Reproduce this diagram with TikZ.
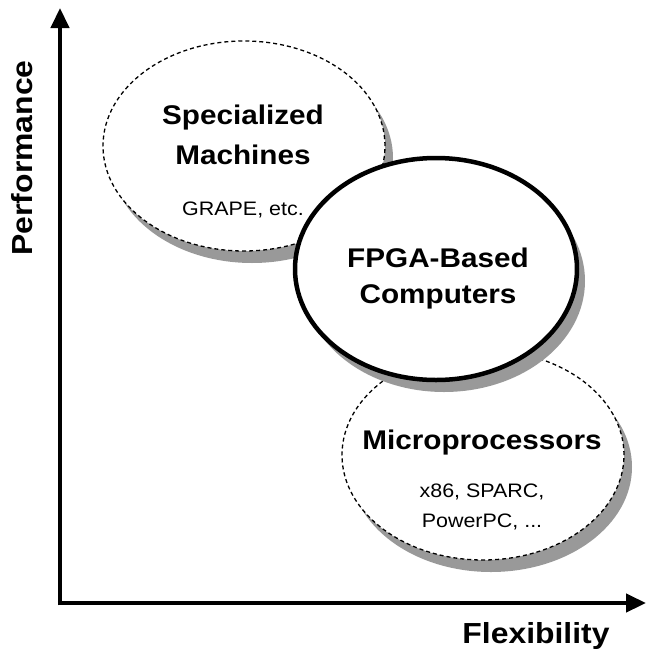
\documentclass[tikz,border=0pt]{standalone}
\usepackage{fontspec}
\setmainfont{Liberation Sans}[FakeStretch=1.1]
\usetikzlibrary{arrows.meta,shapes.geometric,shadows}

\tikzset{
  region/.style={ellipse, draw=black, fill=white, inner sep=0pt,
    drop shadow={shadow xshift=8pt, shadow yshift=-12pt, fill=black!40, opacity=1}},
  softregion/.style={region, line width=1.3pt, dash pattern=on 4pt off 3pt},
  hardregion/.style={region, line width=4.5pt},
  bigtext/.style={font=\bfseries\fontsize{27}{30}\selectfont, inner sep=0pt},
  axislabel/.style={font=\bfseries\fontsize{29}{32}\selectfont, inner sep=0pt},
  smalltext/.style={font=\fontsize{19.5}{22}\selectfont, inner sep=0pt},
  axis/.style={line width=4.5pt, -{Triangle[length=20pt,width=18pt]}}
}

\begin{document}
\begin{tikzpicture}[x=1pt,y=-1pt]
  \useasboundingbox (0,0) rectangle (646,651);

  % axes
  \coordinate (origin) at (60,603);
  \coordinate (ytop) at (60,8);
  \coordinate (xend) at (646,603);
  \draw[axis] ([xshift=-2.25pt]origin) -- (xend);
  \draw[axis] ([yshift=-2.25pt]origin) -- (ytop);
  \node[axislabel, rotate=90] (perf) at (22,158) {Performance};
  \node[axislabel] (flex) at (536,636) {Flexibility};

  % specialized machines
  \node[softregion, minimum width=282pt, minimum height=210pt] (spec) at (244,146) {};
  \node[bigtext] (spec1) at (243,118) {Specialized};
  \node[bigtext] (spec2) at (243,155) {Machines};
  \node[smalltext] (spec3) at (243,210) {GRAPE, etc.};

  % microprocessors
  \node[softregion, minimum width=282pt, minimum height=210pt] (micro) at (483,455) {};
  \node[bigtext] (micro1) at (482,443) {Microprocessors};
  \node[smalltext] (micro2) at (482,492) {x86, SPARC,};
  \node[smalltext] (micro3) at (482,522) {PowerPC, ...};

  % FPGA-based computers
  \node[hardregion, minimum width=282pt, minimum height=222pt] (fpga) at (436,269) {};
  \node[bigtext] (fpga1) at (438,258) {FPGA-Based};
  \node[bigtext] (fpga2) at (438,297) {Computers};
\end{tikzpicture}
\end{document}
